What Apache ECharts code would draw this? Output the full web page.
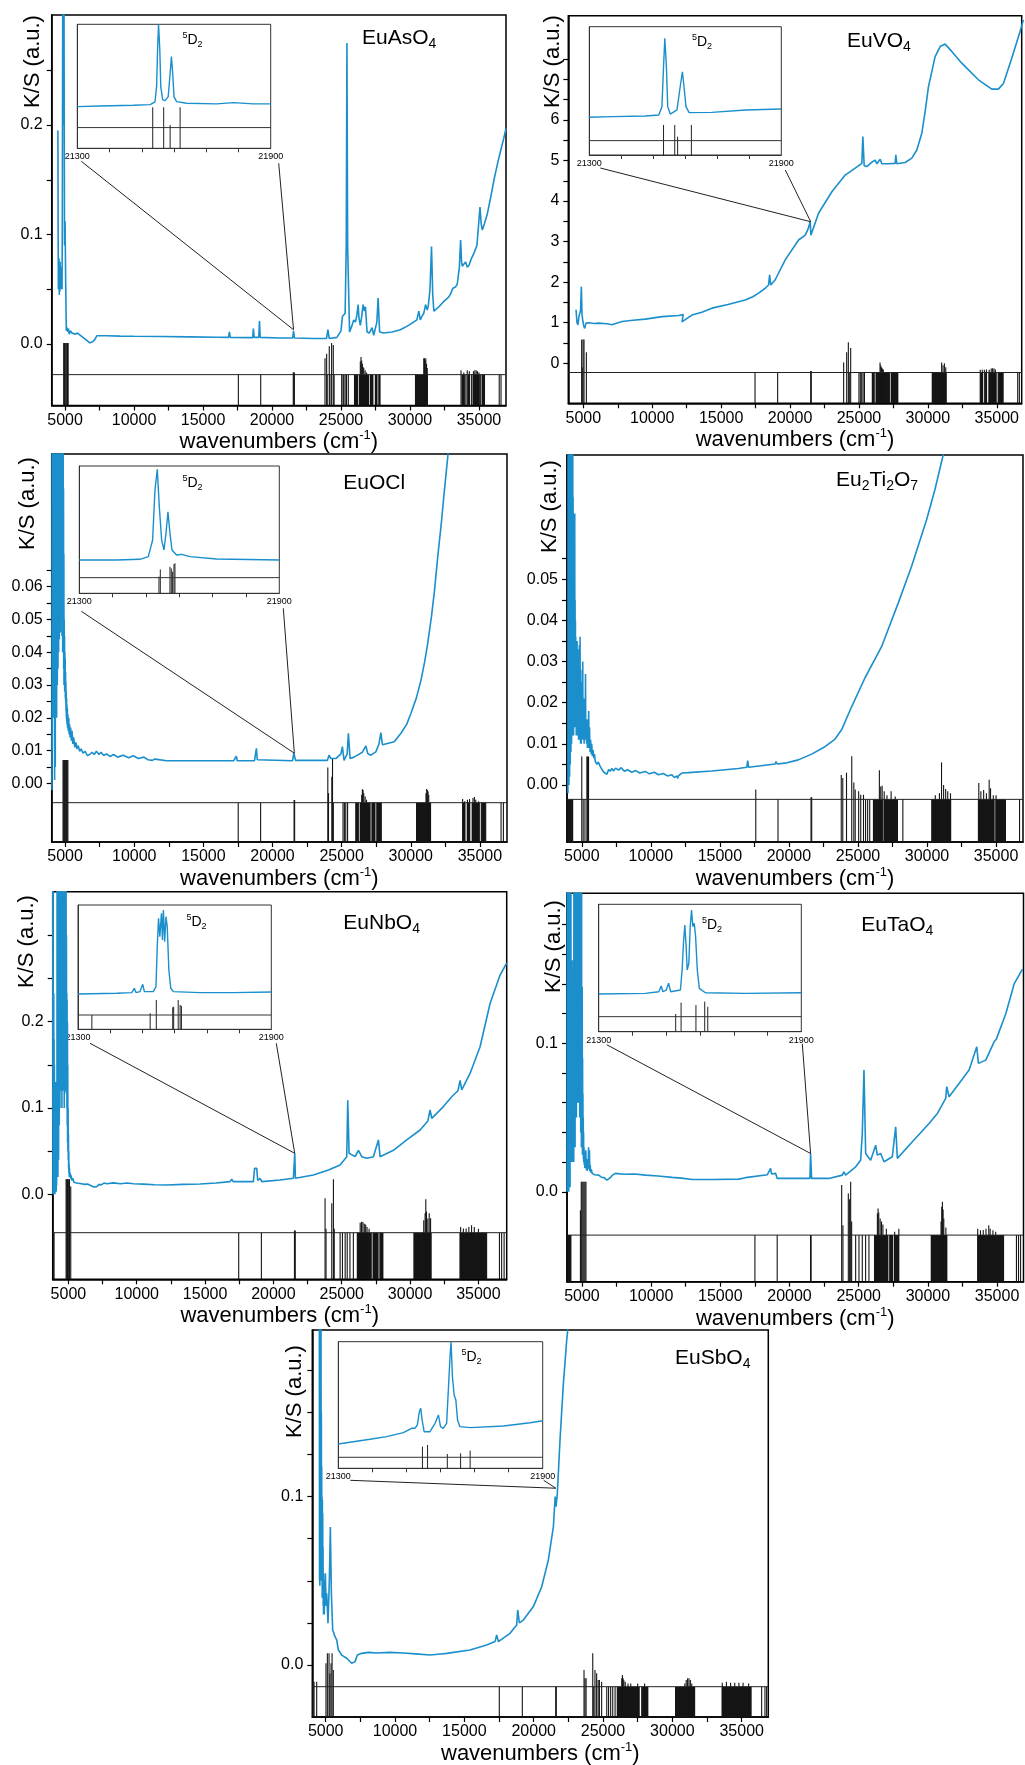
<!DOCTYPE html>
<html><head><meta charset="utf-8">
<script src="https://cdn.jsdelivr.net/npm/echarts@6/dist/echarts.min.js"></script>
<style>html,body{margin:0;padding:0;background:#fff}#c{width:1025px;height:1765px}</style>
</head><body><div id="c"></div>
<script>
// ---------- tick / label values ----------
const xTickValues = [5000,7500,10000,12500,15000,17500,20000,22500,25000,27500,30000,32500,35000];
const xLabelValues = [5000,10000,15000,20000,25000,30000,35000];
const insetTickValues = [21400,21500,21600,21700,21800];
const insetLabelValues = [21300,21900];
const p1YTicks = [0,0.05,0.1,0.15,0.2,0.25];           const p1YLabels = [0,0.1,0.2];
const p2YTicks = [0,0.5,1,1.5,2,2.5,3,3.5,4,4.5,5,5.5,6,6.5,7,7.5]; const p2YLabels = [0,1,2,3,4,5,6];
const p3YTicks = [0,0.005,0.01,0.015,0.02,0.025,0.03,0.035,0.04,0.045,0.05,0.055,0.06,0.065]; const p3YLabels = [0,0.01,0.02,0.03,0.04,0.05,0.06];
const p4YTicks = [0,0.005,0.01,0.015,0.02,0.025,0.03,0.035,0.04,0.045,0.05,0.055]; const p4YLabels = [0,0.01,0.02,0.03,0.04,0.05];
const p5YTicks = [0,0.05,0.1,0.15,0.2,0.25,0.3];       const p5YLabels = [0,0.1,0.2];
const p6YTicks = [0,0.02,0.04,0.06,0.08,0.1,0.12,0.14,0.16,0.18]; const p6YLabels = [0,0.1];
const p7YTicks = [0,0.025,0.05,0.075,0.1,0.125,0.15,0.175]; const p7YLabels = [0,0.1];
const yDecimals = [1,0,2,2,1,1,1];

const panelNames = ['EuAsO{s|4}','EuVO{s|4}','EuOCl','Eu{s|2}Ti{s|2}O{s|7}','EuNbO{s|4}','EuTaO{s|4}','EuSbO{s|4}'];
const yTitle = 'K/S (a.u.)';
const xTitle = 'wavenumbers (cm{sup|-1})';
const insetLabel = '{sup|5}D{sub|2}';

// ---------- main spectra [wavenumber, K/S] ----------
const p1Spec = [[4480,0.195],[4500,0.09],[4515,0.05],[4530,0.075],[4545,0.05],[4560,0.078],[4580,0.045],[4600,0.07],[4620,0.048],[4640,0.075],[4660,0.05],[4680,0.068],[4700,0.05],[4720,0.07],[4740,0.052],[4760,0.06],[4780,0.05],[4800,0.11],[4830,0.32],[4850,0.2],[4870,0.34],[4900,0.25],[4920,0.32],[4960,0.09],[5000,0.112],[5040,0.06],[5090,0.012],[5150,0.015],[5200,0.011],[5250,0.014],[5300,0.009],[5400,0.012],[5500,0.01],[5600,0.011],[5750,0.009],[5900,0.01],[6200,0.007],[6500,0.004],[6800,0.001],[7000,0.002],[7150,0.004],[7300,0.0075],[8000,0.0075],[9000,0.0072],[10000,0.007],[12000,0.0068],[14000,0.0065],[16000,0.0062],[16850,0.006],[16910,0.011],[16970,0.006],[18600,0.0058],[18650,0.014],[18700,0.006],[19040,0.006],[19090,0.021],[19140,0.006],[20500,0.0055],[21500,0.0055],[21560,0.012],[21620,0.0055],[23000,0.005],[23950,0.005],[24050,0.013],[24150,0.005],[24700,0.006],[25000,0.012],[25100,0.025],[25300,0.028],[25380,0.09],[25430,0.275],[25480,0.09],[25620,0.011],[25800,0.017],[25920,0.022],[26050,0.02],[26160,0.027],[26240,0.036],[26300,0.024],[26400,0.017],[26500,0.025],[26600,0.036],[26700,0.03],[26770,0.034],[26890,0.011],[27050,0.01],[27250,0.015],[27370,0.008],[27600,0.02],[27690,0.042],[27800,0.011],[28100,0.01],[28700,0.011],[29300,0.013],[29900,0.017],[30500,0.022],[30640,0.03],[30750,0.022],[30900,0.026],[31000,0.028],[31130,0.036],[31250,0.031],[31330,0.035],[31450,0.05],[31560,0.089],[31650,0.045],[31730,0.03],[32100,0.034],[32460,0.039],[32820,0.043],[32950,0.046],[33110,0.051],[33300,0.052],[33430,0.055],[33580,0.07],[33670,0.095],[33740,0.075],[33790,0.071],[33900,0.07],[34030,0.075],[34150,0.07],[34280,0.072],[34450,0.078],[34640,0.083],[34850,0.09],[34980,0.11],[35075,0.125],[35160,0.11],[35245,0.104],[35400,0.11],[35610,0.119],[35850,0.134],[36090,0.15],[36350,0.165],[36580,0.177],[36800,0.188],[36960,0.197]];
const p2Spec = [[4471,1.32],[4540,1.0],[4616,0.95],[4680,1.15],[4737,1.11],[4800,1.3],[4858,1.89],[4905,1.2],[4955,1.07],[5030,0.92],[5100,0.86],[5196,0.99],[5300,0.97],[5390,1.0],[5800,0.98],[6115,0.99],[6500,0.98],[6840,0.97],[7080,0.95],[7400,0.99],[7807,1.03],[8600,1.06],[9499,1.09],[10707,1.15],[11916,1.18],[12250,1.2],[12158,1.02],[12500,1.1],[12883,1.19],[13600,1.26],[14333,1.36],[15500,1.45],[16750,1.56],[17300,1.64],[17717,1.73],[18200,1.85],[18442,1.93],[18520,2.18],[18600,1.93],[18926,2.06],[19651,2.55],[20618,3.04],[21101,3.16],[21300,3.3],[21464,3.49],[21512,3.16],[22068,3.7],[23035,4.23],[24002,4.64],[24727,4.81],[25210,4.93],[25283,5.59],[25380,4.87],[25573,4.85],[25900,4.95],[26177,5.01],[26298,4.92],[26540,5.03],[26661,4.92],[27100,4.92],[27628,4.93],[27676,5.14],[27749,4.92],[28353,4.95],[28836,5.06],[29199,5.26],[29561,5.67],[29800,6.2],[30045,6.82],[30528,7.56],[30891,7.81],[31253,7.87],[31737,7.69],[32462,7.4],[33670,6.99],[34637,6.76],[35120,6.76],[35483,6.9],[36087,7.52],[36692,8.18],[36934,8.47]];
const p3Spec = [[4048,-0.002],[4060,0.11],[4072,0.01],[4084,0.11],[4096,0.03],[4108,0.11],[4121,0.06],[4133,0.11],[4145,0.02],[4157,0.11],[4170,0.04],[4182,0.11],[4194,0.023],[4206,0.11],[4218,0.05],[4230,0.11],[4242,0.001],[4254,0.09],[4266,0.01],[4278,0.07],[4290,0.005],[4302,0.11],[4315,0.03],[4327,0.11],[4339,0.02],[4351,0.11],[4363,0.04],[4375,0.11],[4387,0.02],[4400,0.11],[4411,0.045],[4423,0.11],[4435,0.03],[4447,0.11],[4460,0.05],[4472,0.11],[4484,0.035],[4496,0.11],[4508,0.05],[4520,0.11],[4532,0.04],[4545,0.11],[4557,0.05],[4569,0.11],[4581,0.044],[4593,0.11],[4605,0.06],[4617,0.11],[4630,0.05],[4642,0.11],[4654,0.046],[4666,0.11],[4678,0.06],[4690,0.11],[4702,0.05],[4715,0.11],[4727,0.05],[4739,0.11],[4751,0.07],[4763,0.11],[4775,0.045],[4787,0.11],[4800,0.06],[4812,0.11],[4824,0.04],[4836,0.11],[4848,0.05],[4860,0.11],[4872,0.04],[4885,0.09],[4897,0.035],[4909,0.07],[4921,0.03],[4933,0.05],[4945,0.03],[4957,0.045],[4970,0.028],[4982,0.04],[4994,0.03],[5006,0.038],[5018,0.026],[5030,0.034],[5042,0.025],[5055,0.031],[5067,0.022],[5080,0.028],[5092,0.02],[5104,0.026],[5116,0.019],[5128,0.024],[5140,0.018],[5160,0.023],[5180,0.017],[5200,0.021],[5230,0.016],[5260,0.02],[5290,0.015],[5320,0.018],[5360,0.014],[5400,0.017],[5450,0.013],[5500,0.016],[5560,0.012],[5620,0.014],[5700,0.011],[5780,0.0125],[5860,0.0105],[5950,0.0115],[6050,0.0098],[6150,0.0105],[6300,0.0092],[6450,0.0098],[6600,0.0085],[6783,0.0088],[6950,0.0095],[7100,0.0088],[7267,0.0098],[7450,0.0088],[7600,0.0095],[7800,0.0085],[7993,0.009],[8250,0.0082],[8500,0.0088],[8800,0.008],[9200,0.0086],[9600,0.0078],[9929,0.0084],[10300,0.0076],[10700,0.008],[11000,0.0072],[11139,0.0078],[11300,0.007],[11500,0.0074],[12349,0.0069],[14769,0.0069],[17189,0.0069],[17300,0.0069],[17383,0.0083],[17450,0.0069],[18700,0.0069],[18835,0.0107],[18900,0.0072],[19005,0.0069],[21450,0.0069],[21545,0.0092],[21666,0.007],[23965,0.007],[24086,0.0086],[24207,0.0076],[24600,0.0076],[24950,0.009],[25054,0.0112],[25175,0.007],[25400,0.009],[25490,0.0153],[25611,0.0076],[25900,0.008],[26143,0.0086],[26500,0.0095],[26748,0.0114],[26900,0.009],[27111,0.0086],[27474,0.0096],[27700,0.012],[27837,0.0155],[27950,0.0118],[28079,0.0117],[28805,0.0127],[29289,0.0153],[29700,0.018],[30015,0.0214],[30400,0.026],[30741,0.0315],[31000,0.037],[31225,0.0427],[31500,0.051],[31709,0.0585],[31951,0.0692],[32200,0.079],[32435,0.0895],[32700,0.1007]];
const p4Spec = [[3997,-0.002],[4010,0.09],[4022,0.0],[4034,0.09],[4046,0.005],[4058,0.09],[4070,0.0],[4082,0.09],[4094,0.01],[4106,0.09],[4118,0.002],[4130,0.09],[4142,0.015],[4154,0.09],[4166,0.005],[4178,0.09],[4190,0.02],[4202,0.09],[4214,0.008],[4226,0.09],[4238,0.02],[4250,0.09],[4262,0.01],[4274,0.09],[4286,0.027],[4298,0.09],[4310,0.012],[4322,0.09],[4334,0.02],[4346,0.09],[4358,0.015],[4370,0.07],[4382,0.02],[4394,0.06],[4406,0.012],[4418,0.055],[4430,0.02],[4442,0.066],[4454,0.015],[4466,0.05],[4478,0.02],[4490,0.066],[4503,0.014],[4515,0.045],[4527,0.018],[4539,0.04],[4551,0.015],[4563,0.036],[4575,0.02],[4587,0.034],[4600,0.012],[4612,0.03],[4624,0.016],[4636,0.028],[4648,0.014],[4660,0.035],[4672,0.012],[4684,0.03],[4696,0.016],[4708,0.033],[4720,0.012],[4732,0.028],[4744,0.015],[4756,0.025],[4768,0.011],[4780,0.03],[4792,0.014],[4804,0.024],[4816,0.012],[4828,0.034],[4840,0.013],[4852,0.026],[4864,0.011],[4876,0.036],[4889,0.014],[4901,0.022],[4913,0.01],[4925,0.028],[4937,0.012],[4949,0.02],[4961,0.01],[4973,0.025],[4985,0.012],[4997,0.019],[5009,0.011],[5030,0.022],[5050,0.012],[5070,0.03],[5090,0.012],[5110,0.02],[5130,0.011],[5150,0.018],[5170,0.01],[5190,0.021],[5210,0.011],[5230,0.018],[5250,0.012],[5270,0.027],[5290,0.011],[5320,0.016],[5350,0.01],[5380,0.015],[5410,0.009],[5440,0.016],[5470,0.009],[5500,0.018],[5530,0.009],[5560,0.014],[5600,0.008],[5640,0.011],[5684,0.0075],[5720,0.01],[5770,0.007],[5820,0.0085],[5870,0.0065],[5920,0.0075],[5970,0.0058],[6022,0.0061],[6100,0.005],[6200,0.0056],[6335,0.0045],[6450,0.0038],[6600,0.0031],[6700,0.0035],[6818,0.0026],[6950,0.0038],[7050,0.0033],[7179,0.004],[7300,0.0034],[7450,0.0041],[7661,0.0036],[7850,0.0042],[8100,0.0033],[8300,0.0037],[8626,0.0031],[8900,0.0035],[9200,0.0029],[9590,0.0033],[9900,0.0027],[10250,0.0031],[10555,0.0025],[10900,0.0028],[11200,0.0022],[11519,0.0025],[11700,0.0018],[11881,0.0022],[11950,0.0016],[12000,0.0022],[12242,0.0029],[12724,0.003],[14412,0.0034],[16341,0.004],[16950,0.0043],[17016,0.0059],[17080,0.0043],[18270,0.0048],[19000,0.0051],[19065,0.0057],[19150,0.0051],[19716,0.0053],[20681,0.0061],[21645,0.0075],[22610,0.0093],[23300,0.011],[23815,0.0134],[24538,0.019],[25503,0.026],[26709,0.0336],[27913,0.0442],[28878,0.0531],[29963,0.0644],[30566,0.0717],[31169,0.0802],[31300,0.082]];
const p5Spec = [[3854,0.36],[3866,0.0],[3878,0.36],[3890,0.002],[3903,0.2],[3915,0.0],[3927,0.233],[3939,0.01],[3952,0.18],[3964,0.0],[3976,0.15],[3988,0.005],[4000,0.12],[4012,0.0],[4025,0.1],[4037,0.01],[4049,0.117],[4061,0.005],[4073,0.13],[4086,0.01],[4098,0.09],[4110,0.003],[4122,0.129],[4134,0.01],[4146,0.11],[4159,0.02],[4171,0.36],[4183,0.03],[4195,0.36],[4207,0.05],[4220,0.36],[4232,0.02],[4244,0.36],[4256,0.06],[4268,0.36],[4281,0.04],[4293,0.36],[4305,0.1],[4317,0.36],[4329,0.08],[4342,0.36],[4354,0.12],[4366,0.36],[4378,0.1],[4390,0.36],[4403,0.15],[4415,0.36],[4427,0.13],[4439,0.36],[4451,0.156],[4464,0.36],[4476,0.12],[4488,0.36],[4500,0.15],[4512,0.36],[4525,0.1],[4537,0.36],[4549,0.14],[4561,0.36],[4573,0.12],[4586,0.36],[4598,0.2],[4610,0.36],[4622,0.12],[4634,0.36],[4647,0.2],[4659,0.36],[4671,0.15],[4683,0.36],[4696,0.1],[4708,0.36],[4720,0.2],[4732,0.36],[4745,0.117],[4757,0.36],[4769,0.18],[4781,0.36],[4793,0.15],[4806,0.36],[4818,0.233],[4830,0.36],[4842,0.12],[4854,0.3],[4867,0.15],[4879,0.233],[4891,0.1],[4903,0.225],[4915,0.08],[4928,0.2],[4940,0.06],[4952,0.15],[4964,0.05],[4976,0.1],[4989,0.04],[5001,0.07],[5013,0.03],[5025,0.05],[5037,0.025],[5050,0.035],[5062,0.02],[5074,0.03],[5100,0.02],[5130,0.025],[5171,0.018],[5200,0.022],[5250,0.016],[5317,0.0185],[5400,0.014],[5488,0.0155],[5600,0.013],[5700,0.0145],[5854,0.0125],[6000,0.0135],[6200,0.0115],[6400,0.0118],[6586,0.0105],[6850,0.0085],[7073,0.0089],[7250,0.0115],[7400,0.0108],[7600,0.013],[7805,0.0122],[8300,0.0132],[8800,0.0122],[9300,0.013],[9756,0.0122],[10500,0.0118],[11300,0.011],[12195,0.0108],[13400,0.0115],[14634,0.012],[15800,0.013],[16829,0.0147],[16951,0.0174],[17050,0.0147],[18537,0.0147],[18620,0.03],[18700,0.028],[18780,0.03],[18850,0.016],[19024,0.0185],[19146,0.0147],[20488,0.0166],[21463,0.0185],[21561,0.0475],[21610,0.0185],[22927,0.0224],[24024,0.0282],[24878,0.034],[25366,0.0436],[25439,0.109],[25537,0.0475],[25976,0.0436],[26220,0.051],[26464,0.0436],[26829,0.0417],[27317,0.0436],[27683,0.063],[27805,0.0436],[28780,0.051],[29756,0.063],[30732,0.0745],[31300,0.085],[31463,0.0977],[31585,0.088],[32439,0.1016],[33049,0.113],[33500,0.12],[33659,0.132],[33780,0.121],[34390,0.14],[35122,0.171],[35854,0.221],[36585,0.254],[37073,0.268]];
const p6Spec = [[3924,0.0],[3936,0.21],[3948,0.0],[3960,0.21],[3972,0.005],[3985,0.21],[3997,0.0],[4009,0.21],[4021,0.01],[4033,0.21],[4045,0.0],[4057,0.21],[4069,0.02],[4081,0.134],[4093,0.01],[4105,0.21],[4117,0.02],[4129,0.15],[4141,0.003],[4153,0.21],[4166,0.03],[4178,0.12],[4190,0.02],[4202,0.21],[4214,0.04],[4226,0.1],[4238,0.02],[4250,0.156],[4262,0.03],[4274,0.08],[4286,0.021],[4298,0.12],[4310,0.03],[4322,0.066],[4334,0.02],[4346,0.1],[4358,0.025],[4370,0.156],[4383,0.03],[4395,0.08],[4407,0.02],[4419,0.21],[4431,0.04],[4443,0.1],[4455,0.03],[4467,0.21],[4479,0.05],[4491,0.12],[4503,0.03],[4515,0.21],[4527,0.06],[4539,0.21],[4551,0.05],[4563,0.21],[4575,0.07],[4587,0.21],[4600,0.05],[4612,0.21],[4624,0.077],[4636,0.21],[4648,0.06],[4660,0.21],[4672,0.08],[4684,0.21],[4696,0.07],[4708,0.21],[4720,0.09],[4732,0.21],[4744,0.06],[4756,0.21],[4768,0.08],[4780,0.21],[4792,0.06],[4804,0.18],[4817,0.07],[4829,0.21],[4841,0.05],[4853,0.15],[4865,0.06],[4877,0.21],[4889,0.05],[4901,0.138],[4913,0.04],[4925,0.21],[4937,0.04],[4949,0.12],[4961,0.03],[4973,0.21],[4985,0.03],[4997,0.1],[5009,0.03],[5021,0.138],[5034,0.025],[5046,0.09],[5058,0.03],[5070,0.066],[5082,0.025],[5094,0.05],[5106,0.022],[5118,0.04],[5130,0.02],[5150,0.03],[5170,0.018],[5190,0.027],[5210,0.016],[5230,0.024],[5250,0.017],[5280,0.028],[5310,0.015],[5340,0.022],[5370,0.014],[5400,0.021],[5443,0.015],[5480,0.03],[5510,0.016],[5539,0.028],[5570,0.014],[5600,0.018],[5630,0.013],[5680,0.015],[5732,0.0125],[5900,0.0115],[6214,0.0112],[6400,0.0098],[6600,0.0095],[6800,0.0078],[6938,0.0083],[7050,0.0095],[7180,0.011],[7420,0.0124],[8000,0.0118],[8800,0.012],[9590,0.0112],[10500,0.0106],[11519,0.0097],[12200,0.0092],[12966,0.0083],[14500,0.0083],[16341,0.0085],[16823,0.0095],[18400,0.0115],[18511,0.0124],[18632,0.0157],[18700,0.012],[18800,0.011],[18993,0.0124],[19113,0.009],[21163,0.009],[21476,0.009],[21524,0.0258],[21597,0.009],[22850,0.009],[23815,0.0112],[23936,0.0135],[24056,0.0112],[24780,0.0168],[25141,0.0213],[25261,0.0393],[25382,0.082],[25503,0.0258],[25864,0.0213],[26226,0.0314],[26346,0.0247],[26588,0.0258],[26829,0.0202],[27432,0.0236],[27673,0.0438],[27793,0.0225],[28878,0.0337],[30084,0.046],[30687,0.0528],[31290,0.0629],[31362,0.0708],[31531,0.064],[32254,0.073],[32978,0.082],[33532,0.0977],[33653,0.0865],[34183,0.0887],[34786,0.101],[34955,0.103],[35630,0.12],[36233,0.14],[36835,0.15]];
const p7Spec = [[4543,0.21],[4555,0.05],[4567,0.21],[4579,0.047],[4591,0.21],[4603,0.06],[4615,0.21],[4627,0.05],[4639,0.21],[4651,0.07],[4663,0.21],[4675,0.06],[4687,0.15],[4699,0.05],[4711,0.118],[4723,0.05],[4735,0.1],[4747,0.04],[4760,0.098],[4772,0.05],[4784,0.09],[4796,0.04],[4808,0.07],[4820,0.035],[4832,0.0545],[4844,0.03],[4856,0.05],[4868,0.032],[4880,0.045],[4892,0.03],[4904,0.0347],[4976,0.0545],[5030,0.035],[5073,0.0426],[5168,0.0248],[5264,0.0505],[5336,0.082],[5409,0.0426],[5505,0.0208],[5673,0.0168],[5793,0.0149],[5913,0.0089],[6154,0.0059],[6514,0.004],[6875,0.001],[6995,0.0],[7115,0.002],[7283,0.0059],[7596,0.0069],[8100,0.0075],[8678,0.0071],[9600,0.0075],[10601,0.0071],[11500,0.0066],[12524,0.0059],[13100,0.0064],[13726,0.0069],[15409,0.0089],[16611,0.0119],[17212,0.0139],[17332,0.0178],[17452,0.0139],[18294,0.0188],[18775,0.0238],[18847,0.0327],[18968,0.025],[19255,0.0267],[19977,0.0347],[20578,0.0465],[21058,0.0624],[21419,0.082],[21550,0.1],[21611,0.094],[21707,0.102],[21900,0.134],[22140,0.167],[22381,0.193],[22600,0.21]];

// ---------- stick spectra: baseline, [position, top] sticks, dense [from, to] bands ----------
const p1Base = -0.028;
const p1Sticks = [[4900,0.001],[4950,0.001],[5000,0.001],[5060,0.001],[5120,0.001],[5180,0.001],[5220,0.001],[17560,-0.028],[19180,-0.028],[21540,-0.026],[21580,-0.026],[21620,-0.026],[23840,-0.013],[23960,-0.009],[24000,-0.028],[24150,-0.002],[24200,-0.028],[24320,0.001],[24440,-0.001],[24500,-0.028],[25050,-0.028],[25150,-0.028],[25200,-0.028],[25300,-0.028],[25400,-0.028],[25530,-0.028],[26400,-0.016],[26450,-0.012],[26500,-0.015],[26550,-0.018],[26600,-0.021],[26650,-0.022],[26750,-0.024],[26850,-0.026],[31000,-0.013],[31050,-0.013],[31100,-0.015],[31150,-0.013],[31200,-0.018],[31250,-0.022],[33700,-0.024],[33800,-0.028],[33900,-0.026],[34050,-0.028],[34150,-0.024],[34300,-0.025],[34450,-0.028],[34600,-0.025],[34700,-0.024],[34800,-0.024],[34900,-0.025],[35000,-0.026],[35100,-0.028],[35250,-0.028],[35400,-0.028],[36470,-0.028],[36600,-0.028]];
const p1Bands = [[25940,26250],[26300,27050],[27100,27350],[27450,27650],[27700,27870],[30360,31300],[33740,33980],[34170,34340],[34530,35060],[35190,35430]];
const p2Base = -0.227;
const p2Sticks = [[4880,0.59],[4920,-0.1],[4980,0.59],[5050,0.59],[5220,0.27],[17460,-0.227],[19100,-0.227],[21500,-0.19],[21540,-0.19],[23890,0.02],[24110,0.27],[24230,0.52],[24300,-0.227],[24400,0.38],[25000,-0.227],[25100,-0.227],[25200,-0.227],[25300,-0.227],[25400,-0.227],[26530,0.02],[26580,-0.05],[26640,-0.1],[26700,-0.13],[26770,-0.15],[31000,0.02],[31100,-0.05],[31200,0.0],[31300,-0.1],[33800,-0.16],[33950,-0.16],[34100,-0.16],[34250,-0.15],[34450,-0.16],[34600,-0.13],[34700,-0.12],[34800,-0.13],[34900,-0.15],[35100,-0.227],[35300,-0.227],[35450,-0.227],[36520,-0.227],[36640,-0.227]];
const p2Bands = [[25930,26150],[26200,27250],[27300,27860],[30280,31370],[33790,34000],[34150,34300],[34400,35000],[35100,35480]];
const p3Base = -0.0059;
const p3Sticks = [[4850,0.0071],[4900,0.0071],[4950,0.0071],[5000,0.0071],[5050,0.0071],[5100,0.0071],[5150,0.0071],[5200,0.0071],[17520,-0.0059],[19140,-0.0059],[21560,-0.0051],[21600,-0.0051],[24000,0.0048],[24050,-0.003],[24290,0.002],[24340,0.0076],[24400,-0.0059],[25100,-0.0059],[25200,-0.0059],[25300,-0.0059],[25430,-0.0059],[26450,-0.0035],[26500,-0.0018],[26550,-0.002],[26600,-0.003],[26700,-0.004],[26800,-0.005],[31100,-0.003],[31150,-0.0017],[31200,-0.002],[31250,-0.0025],[31300,-0.0035],[33750,-0.0048],[33900,-0.0055],[34100,-0.005],[34250,-0.0048],[34500,-0.0045],[34600,-0.0042],[34700,-0.005],[34900,-0.0055],[35100,-0.0059],[35300,-0.0059],[35420,-0.0059],[36530,-0.0059],[36700,-0.0059]];
const p3Bands = [[25980,26250],[26300,27100],[27150,27450],[27500,27910],[30380,31470],[33740,33950],[34050,34300],[34400,35000],[35100,35420]];
const p4Base = -0.0035;
const p4Sticks = [[5000,0.0069],[5100,-0.0035],[5230,-0.0035],[5370,0.0069],[5420,0.0069],[5490,0.0069],[17600,-0.0011],[19210,-0.0035],[21600,-0.003],[21650,-0.003],[23790,0.0024],[23900,0.0017],[24170,0.003],[24550,0.007],[24700,0.0006],[24800,-0.0011],[25050,-0.0015],[25200,-0.0024],[25400,-0.0024],[25550,-0.0035],[25700,-0.0035],[25850,-0.0035],[26550,0.0036],[26650,-0.0004],[26750,-0.0002],[26900,-0.0015],[27100,-0.0025],[27400,-0.0015],[27700,-0.0028],[28250,-0.0035],[30600,-0.0025],[30900,-0.002],[31050,0.0055],[31200,0.0],[31350,-0.001],[31500,-0.0015],[31700,-0.002],[33750,0.0005],[33900,-0.0015],[34100,-0.0012],[34300,-0.002],[34500,0.0013],[34600,-0.0008],[34800,-0.0025],[35000,-0.0025],[35400,-0.0035],[36700,-0.0035]];
const p4Bands = [[3980,4380],[26080,26800],[26850,27900],[30300,31750],[33680,34900],[34950,35720]];
const p5Base = -0.0445;
const p5Sticks = [[3950,-0.0445],[4830,0.0174],[4880,0.0174],[4930,0.0174],[4980,0.0174],[5030,0.0174],[5080,0.0174],[5170,0.009],[17460,-0.0445],[19120,-0.0445],[21540,-0.042],[21600,-0.042],[23780,-0.0047],[23850,-0.04],[24270,-0.0105],[24390,0.0174],[24450,-0.04],[24880,-0.0445],[25050,-0.0445],[25250,-0.0445],[25400,-0.0445],[25600,-0.0445],[25850,-0.0445],[26350,-0.033],[26450,-0.0317],[26550,-0.032],[26650,-0.034],[26750,-0.035],[26850,-0.038],[27000,-0.04],[31000,-0.03],[31100,-0.022],[31150,-0.0058],[31200,-0.02],[31300,-0.028],[31400,-0.0221],[31500,-0.0279],[33700,-0.038],[33900,-0.0395],[34100,-0.0395],[34300,-0.038],[34500,-0.036],[34700,-0.038],[35000,-0.04],[35300,-0.0445],[35600,-0.0445],[36540,-0.0445],[36700,-0.0445],[36880,-0.0445]];
const p5Bands = [[26100,27200],[27250,27700],[27750,28050],[30240,31580],[33610,35610]];
const p6Base = -0.0292;
const p6Sticks = [[4890,-0.0124],[4950,0.0067],[5010,0.0067],[5080,0.0067],[5150,0.0067],[5220,0.0067],[5290,0.0067],[17500,-0.0292],[19110,-0.0292],[21520,-0.0292],[21560,-0.0292],[23770,0.0045],[23860,-0.0225],[24250,-0.0011],[24345,-0.005],[24420,0.0067],[24490,-0.02],[24780,-0.0292],[25020,-0.0292],[25260,-0.0292],[25500,-0.0292],[25740,-0.0292],[26350,-0.0146],[26400,-0.0113],[26450,-0.014],[26550,-0.018],[26650,-0.02],[26750,-0.022],[27000,-0.025],[27600,-0.027],[27900,-0.025],[30950,-0.02],[31000,-0.0101],[31050,-0.0068],[31100,-0.012],[31150,-0.018],[31300,-0.024],[33600,-0.025],[33800,-0.026],[34000,-0.0258],[34200,-0.025],[34400,-0.0225],[34500,-0.025],[34700,-0.026],[34900,-0.027],[36400,-0.0292],[36550,-0.0292],[36700,-0.0292]];
const p6Bands = [[3990,4240],[26105,27150],[27200,27500],[27550,27913],[30204,31410],[33580,35508]];
const p7Base = -0.0129;
const p7Sticks = [[4060,-0.0099],[4160,-0.0099],[4350,-0.0099],[5020,0.001],[5120,0.0069],[5240,0.0069],[5300,-0.005],[5385,0.001],[5460,0.0069],[5550,-0.003],[17520,-0.0129],[19180,-0.0129],[21590,-0.0129],[21630,-0.0129],[23630,-0.003],[23700,-0.0079],[23780,-0.0079],[24260,0.0069],[24330,-0.0129],[24420,-0.003],[24540,-0.0049],[24650,-0.0089],[24740,-0.0089],[24900,-0.0099],[25270,-0.0129],[25400,-0.0129],[25550,-0.0129],[25700,-0.0129],[25870,-0.0129],[26350,-0.0079],[26400,-0.0059],[26450,-0.0079],[26500,-0.009],[26600,-0.01],[26800,-0.011],[27000,-0.011],[27500,-0.011],[28000,-0.011],[30900,-0.011],[31000,-0.0089],[31100,-0.0079],[31200,-0.0079],[31300,-0.0089],[31400,-0.011],[31600,-0.0129],[33600,-0.0105],[33900,-0.0099],[34200,-0.0105],[34500,-0.0105],[34800,-0.0105],[35100,-0.0105],[35500,-0.011],[36440,-0.0129],[36680,-0.0129],[36800,-0.0129]];
const p7Bands = [[25990,27650],[27750,28270],[30190,31640],[33560,35720]];

// ---------- insets (5D2 region, arbitrary units 0-100) ----------
const i1Spec = [[21300,33.6],[21370,34.1],[21474,34.7],[21526,35.2],[21541,37.4],[21546,49.7],[21549,79.3],[21552,100],[21556,79.3],[21559,49.7],[21565,39],[21572,38.4],[21582,41.7],[21588,60.5],[21592,73.9],[21596,60.5],[21600,41.7],[21608,37.6],[21639,36.3],[21732,35.8],[21784,36.8],[21846,35.8],[21900,35.8]];
const i1Base = 16.7;
const i1Sticks = [[21534,33.1],[21568,33.1],[21588,18.8],[21619,33.1]];
const i2Spec = [[21300,29.4],[21371,29.9],[21475,30.4],[21517,31.2],[21527,37.7],[21532,68.8],[21536,90.9],[21541,68.8],[21545,37.7],[21553,31.9],[21574,35.1],[21584,53.2],[21591,64.9],[21596,53.2],[21602,37.7],[21612,33],[21683,33.2],[21788,35.1],[21900,35.8]];
const i2Base = 11.2;
const i2Sticks = [[21532,23.4],[21567,23.4],[21576,14.3],[21619,23.4]];
const i3Spec = [[21300,26.2],[21412,26.2],[21482,26.7],[21507,28.8],[21520,41.9],[21527,81.2],[21534,97.4],[21540,68.1],[21547,41.9],[21554,34],[21560,47.1],[21566,64.1],[21572,47.1],[21578,34],[21592,30.1],[21607,30.6],[21632,28.8],[21712,27],[21900,26.2]];
const i3Base = 12.3;
const i3Sticks = [[21539,13.1],[21543,18.8],[21572,20.9],[21576,19.6],[21580,17],[21584,23],[21587,23.6]];
const i5Spec = [[21300,28.4],[21420,29],[21467,29.5],[21475,33],[21480,29.5],[21492,30.3],[21501,36.2],[21506,30.3],[21534,30.3],[21542,34.3],[21546,66.5],[21550,89.3],[21554,74.5],[21559,93.3],[21562,71.8],[21565,96],[21569,70.5],[21573,90.6],[21577,82.6],[21582,47.7],[21588,33],[21596,30.3],[21679,29.5],[21782,29.5],[21900,30]];
const i5Base = 11.5;
const i5Sticks = [[21343,11.5],[21524,12.9],[21543,23.6],[21594,17.7],[21597,18.2],[21611,23.6],[21617,19.6],[21621,18.8]];
const i6Spec = [[21300,29.6],[21438,30.1],[21478,31.4],[21485,35.9],[21490,31.4],[21500,32.7],[21507,38],[21513,31.4],[21542,32.7],[21547,48.4],[21551,69.4],[21555,83.8],[21559,66.8],[21562,48.4],[21567,53.7],[21571,82.5],[21575,95.5],[21579,82.5],[21583,85.1],[21587,74.6],[21592,48.4],[21598,34],[21616,30.6],[21734,30.1],[21900,30.6]];
const i6Base = 11.8;
const i6Sticks = [[21528,13.9],[21544,22.8],[21588,20.9],[21614,23.6],[21623,19.6]];
const i7Spec = [[21300,19.2],[21344,21],[21393,22.9],[21442,25],[21491,28.2],[21515,31.6],[21525,31.6],[21532,34.2],[21538,44.7],[21542,47.4],[21546,38.2],[21552,28.9],[21569,28.9],[21584,35.5],[21594,42.1],[21600,32.9],[21608,31.6],[21618,35.5],[21624,67.1],[21628,88.2],[21631,100],[21635,72.4],[21640,57.9],[21645,53.9],[21650,38.2],[21657,32.9],[21687,32.1],[21785,33.4],[21863,36],[21900,37.6]];
const i7Base = 8.7;
const i7Sticks = [[21547,17.1],[21562,18.4],[21620,11.3],[21659,11.8],[21687,13.9]];
// point on the main spectrum that each inset zooms into
const zoomTargets = [[21560,0.013],[21500,3.49],[21580,0.0092],null,[21560,0.0475],[21524,0.0258],[21600,0.105]];

// ---------- layout (pixels) ----------
const layout = [
 {box:[51.7,15,506,405.5], xr:[4030,36960], yr:[-0.0562,0.3005], inset:[77.3,24.3,270.7,148.3], name:[362,25], d2:[182.5,31], ks:[32.5,108], cl:[4,13], cr:[8,15]},
 {box:[568.3,15.7,1021.7,403.3], xr:[3910,36810], yr:[-0.986,8.57], inset:[589.3,26.7,781.3,155], name:[847,28.5], d2:[692,33], ks:[553,108], cl:[11,13], cr:[4,15]},
 {box:[51.7,454,507,842], xr:[4030,36960], yr:[-0.0179,0.1005], inset:[79.3,466,279.3,593.3], name:[343.3,470], d2:[182.5,474], ks:[27.5,550], cl:[2,18], cr:[4,15]},
 {box:[567,455,1023,842], xr:[3930,36950], yr:[-0.01386,0.0802], inset:null, name:[836,467], d2:null, ks:[549.5,553]},
 {box:[52.7,891.7,506.7,1279.3], xr:[3850,37070], yr:[-0.0985,0.3506], inset:[78,905,271.3,1029.3], name:[343.3,910], d2:[186.5,913], ks:[26.7,988], cl:[12,14], cr:[5,14]},
 {box:[567,893.3,1023.5,1281.7], xr:[3920,36910], yr:[-0.0606,0.2011], inset:[598.7,904.3,801.3,1031.7], name:[861.3,912], d2:[702,916], ks:[553.7,993], cl:[8,13], cr:[1,12]},
 {box:[312.3,1330,768.3,1717], xr:[4034,36920], yr:[-0.0309,0.199], inset:[338.3,1341.7,542.7,1468.3], name:[675,1345], d2:[461.5,1348], ks:[295,1438], cl:[12,12], cr:[1,12]}
];

const mainSpecs = [p1Spec,p2Spec,p3Spec,p4Spec,p5Spec,p6Spec,p7Spec];
const bases = [p1Base,p2Base,p3Base,p4Base,p5Base,p6Base,p7Base];
const stickSets = [p1Sticks,p2Sticks,p3Sticks,p4Sticks,p5Sticks,p6Sticks,p7Sticks];
const bandSets = [p1Bands,p2Bands,p3Bands,p4Bands,p5Bands,p6Bands,p7Bands];
const yTickSets = [p1YTicks,p2YTicks,p3YTicks,p4YTicks,p5YTicks,p6YTicks,p7YTicks];
const yLabelSets = [p1YLabels,p2YLabels,p3YLabels,p4YLabels,p5YLabels,p6YLabels,p7YLabels];
const insetSpecs = [i1Spec,i2Spec,i3Spec,null,i5Spec,i6Spec,i7Spec];
const insetBases = [i1Base,i2Base,i3Base,null,i5Base,i6Base,i7Base];
const insetSticks = [i1Sticks,i2Sticks,i3Sticks,null,i5Sticks,i6Sticks,i7Sticks];

const FONT = '"Liberation Sans", Arial, Helvetica, sans-serif';
const BLUE = '#1a8fcc';
const chart = echarts.init(document.getElementById('c'), null, {renderer:'canvas', width:1025, height:1765});

const grid = [], xAxis = [], yAxis = [], series = [];

function stickSeries(idx, data, yMin, color, width) {
  return {type:'custom', xAxisIndex:idx, yAxisIndex:idx, clip:true, silent:true, z:2,
    data: data, encode:{x:0, y:1},
    renderItem: function(params, api) {
      const x = api.value(0), top = api.value(1);
      const a = api.coord([x, yMin]), b = api.coord([x, top]);
      return {type:'line', shape:{x1:a[0], y1:a[1], x2:b[0], y2:b[1]}, style:{stroke:color, lineWidth:width}};
    }};
}
function bandSeries(idx, data, base, yMin) {
  return {type:'custom', xAxisIndex:idx, yAxisIndex:idx, clip:true, silent:true, z:2,
    data: data.map(d => [d[0], d[1], base]), encode:{x:[0,1], y:2},
    renderItem: function(params, api) {
      const a = api.coord([api.value(0), api.value(2)]), b = api.coord([api.value(1), yMin]);
      return {type:'rect', shape:{x:a[0], y:a[1], width:Math.max(1, b[0]-a[0]), height:b[1]-a[1]}, style:{fill:'#151515'}};
    }};
}
function flatLine(idx, x0, x1, y, color) {
  return {type:'line', xAxisIndex:idx, yAxisIndex:idx, data:[[x0,y],[x1,y]], showSymbol:false, silent:true, z:3,
    lineStyle:{color:color, width:1}, animation:false};
}

const mainIdx = [], insetIdx = [];
layout.forEach((L, i) => {
  const gi = grid.length; mainIdx.push(gi);
  const [l,t,r,b] = L.box;
  grid.push({left:l, top:t, width:r-l, height:b-t, show:true, borderColor:'#000', borderWidth:1.5, containLabel:false, outerBoundsMode:'none'});
  xAxis.push({gridIndex:gi, type:'value', min:L.xr[0], max:L.xr[1],
    axisLine:{show:true, onZero:false, lineStyle:{color:'#000', width:1.5}},
    axisTick:{show:true, customValues:xTickValues, length:5, lineStyle:{color:'#000', width:1.2}},
    axisLabel:{show:true, customValues:xLabelValues, formatter:v => String(v), fontSize:16, color:'#000', fontFamily:FONT, margin:7},
    splitLine:{show:false},
    name:xTitle, nameLocation:'middle', nameGap:22,
    nameTextStyle:{fontSize:22, color:'#000', fontFamily:FONT, lineHeight:26, verticalAlign:'top',
      rich:{sup:{fontSize:13, color:'#000', fontFamily:FONT, verticalAlign:'top', lineHeight:14}}}});
  const dec = yDecimals[i];
  yAxis.push({gridIndex:gi, type:'value', min:L.yr[0], max:L.yr[1],
    axisLine:{show:true, onZero:false, lineStyle:{color:'#000', width:1.5}},
    axisTick:{show:true, customValues:yTickSets[i], length:5, lineStyle:{color:'#000', width:1.2}},
    axisLabel:{show:true, customValues:yLabelSets[i], formatter:v => v.toFixed(dec), fontSize:16, color:'#000', fontFamily:FONT, margin:9},
    splitLine:{show:false}});
  series.push(bandSeries(gi, bandSets[i], bases[i], L.yr[0]));
  series.push(stickSeries(gi, stickSets[i], L.yr[0], '#151515', 1.1));
  series.push(flatLine(gi, L.xr[0], L.xr[1], bases[i], '#222'));
  series.push({type:'line', xAxisIndex:gi, yAxisIndex:gi, data:mainSpecs[i], showSymbol:false, clip:true, silent:true, z:4,
    lineStyle:{color:BLUE, width:1.6}, animation:false});

  if (L.inset) {
    const ii = grid.length; insetIdx[i] = ii;
    const [il,it,ir,ib] = L.inset;
    grid.push({left:il, top:it, width:ir-il, height:ib-it, show:true, borderColor:'#333', borderWidth:1, backgroundColor:'#fff', containLabel:false, outerBoundsMode:'none'});
    xAxis.push({gridIndex:ii, type:'value', min:21300, max:21900,
      axisLine:{show:true, onZero:false, lineStyle:{color:'#333', width:1}},
      axisTick:{show:true, customValues:insetTickValues, length:4, lineStyle:{color:'#333', width:1}},
      axisLabel:{show:true, customValues:insetLabelValues, showMinLabel:true, showMaxLabel:true, formatter:v => String(v), fontSize:9, color:'#000', fontFamily:FONT, margin:4},
      splitLine:{show:false}});
    yAxis.push({gridIndex:ii, type:'value', min:0, max:100,
      axisLine:{show:true, onZero:false, lineStyle:{color:'#333', width:1}},
      axisTick:{show:false}, axisLabel:{show:false}, splitLine:{show:false}});
    series.push(stickSeries(ii, insetSticks[i], 0, '#222', 1));
    series.push(flatLine(ii, 21300, 21900, insetBases[i], '#333'));
    series.push({type:'line', xAxisIndex:ii, yAxisIndex:ii, data:insetSpecs[i], showSymbol:false, clip:true, silent:true, z:4,
      lineStyle:{color:BLUE, width:1.4}, animation:false});
  }
});

chart.setOption({animation:false, backgroundColor:'#fff', grid:grid, xAxis:xAxis, yAxis:yAxis, series:series});

const g = [];
layout.forEach((L, i) => {
  g.push({type:'text', x:L.ks[0], y:L.ks[1], rotation:Math.PI/2, z:50, silent:true,
    style:{text:yTitle, font:'22px ' + FONT, fill:'#000', align:'left', verticalAlign:'middle', textAlign:'left', textVerticalAlign:'middle'}});
  g.push({type:'text', x:L.name[0], y:L.name[1], z:50, silent:true,
    style:{text:panelNames[i], font:'21px ' + FONT, fontSize:21, fontFamily:FONT, fill:'#000', lineHeight:26, align:'left', verticalAlign:'top', textAlign:'left', textVerticalAlign:'top',
      rich:{s:{fontSize:14, fontFamily:FONT, fill:'#000', verticalAlign:'bottom', lineHeight:14}}}});
  if (L.inset) {
    g.push({type:'text', x:L.d2[0], y:L.d2[1], z:50, silent:true,
      style:{text:insetLabel, font:'14px ' + FONT, fontSize:14, fontFamily:FONT, fill:'#000', lineHeight:18, align:'left', verticalAlign:'top', textAlign:'left', textVerticalAlign:'top',
        rich:{sup:{fontSize:9, fontFamily:FONT, fill:'#000', verticalAlign:'top', lineHeight:9},
              sub:{fontSize:9, fontFamily:FONT, fill:'#000', verticalAlign:'bottom', lineHeight:9}}}});
    const end = chart.convertToPixel({gridIndex:mainIdx[i]}, zoomTargets[i]);
    const a = chart.convertToPixel({gridIndex:insetIdx[i]}, [21300, 0]);
    const b = chart.convertToPixel({gridIndex:insetIdx[i]}, [21900, 0]);
    g.push({type:'line', z:40, silent:true, shape:{x1:a[0]+L.cl[0], y1:a[1]+L.cl[1], x2:end[0], y2:end[1]}, style:{stroke:'#222', lineWidth:1}});
    g.push({type:'line', z:40, silent:true, shape:{x1:b[0]+L.cr[0], y1:b[1]+L.cr[1], x2:end[0], y2:end[1]}, style:{stroke:'#222', lineWidth:1}});
  }
});
chart.setOption({graphic:g});
</script></body></html>
